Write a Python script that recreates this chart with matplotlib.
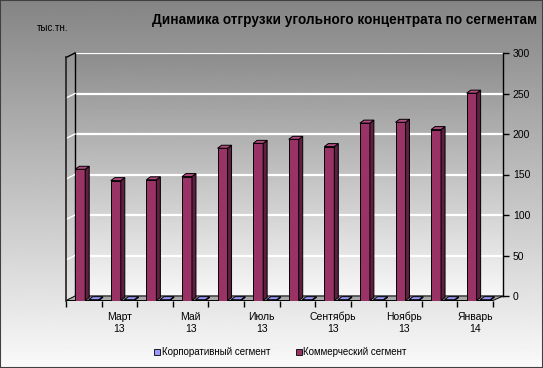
import numpy as np
import matplotlib
matplotlib.use('Agg')
import matplotlib.pyplot as plt
from matplotlib.patches import Polygon, Rectangle
from matplotlib.lines import Line2D
from matplotlib.transforms import IdentityTransform

plt.rcParams['font.family'] = ['Liberation Sans', 'DejaVu Sans']

# Данные (тыс.тн.)
meses = ['Февраль\n13', 'Март\n13', 'Апрель\n13', 'Май\n13', 'Июнь\n13', 'Июль\n13',
         'Август\n13', 'Сентябрь\n13', 'Октябрь\n13', 'Ноябрь\n13', 'Декабрь\n13', 'Январь\n14']
corporativo = [1, 1, 1, 1, 1, 1, 1, 1, 1, 1, 1, 1]
comercial = [162, 148, 149, 153, 188, 194, 199, 190, 219, 220, 211, 256]
etiquetas = ['Корпоративный сегмент', 'Коммерческий сегмент']
titulo = 'Динамика отгрузки угольного концентрата по сегментам'

W, H = 543, 368
fig = plt.figure(figsize=(W / 100, H / 100), dpi=100)

# fondo con degradado
bg = fig.add_axes([0, 0, 1, 1], zorder=-10)
bg.imshow(np.linspace(0.52, 0.98, 256).reshape(-1, 1), cmap='gray', vmin=0, vmax=1,
          aspect='auto', extent=(0, 1, 0, 1))
bg.set_axis_off()
fig.add_artist(Rectangle((0, 0), 1, 1, transform=fig.transFigure, fill=False,
                         edgecolor='#404040', lw=1.5))

# pared del fondo
back = fig.add_axes([75 / W, (H - 296) / H, 428 / W, 243 / H])
back.imshow(np.linspace(0.55, 0.97, 256).reshape(-1, 1), cmap='gray', vmin=0, vmax=1,
            aspect='auto', extent=(-0.5, 11.5, 0, 300), zorder=0)
back.set_xlim(-0.5, 11.5)
back.set_ylim(0, 300)
back.set_xticks([])
back.set_yticks(range(0, 301, 50))
back.yaxis.tick_right()
back.tick_params(axis='y', direction='out', length=4, width=1, pad=3, labelsize=7.5)
for v in range(50, 301, 50):
    back.axhline(v, color='white', lw=1.6, zorder=1)
back.spines['top'].set_visible(False)
for s in ['left', 'right', 'bottom']:
    back.spines[s].set_color('black')
    back.spines[s].set_linewidth(1)

# plano frontal con las barras
front = fig.add_axes([66 / W, (H - 300.5) / H, 427 / W, 243 / H])
front.patch.set_visible(False)
front.set_xlim(-0.5, 11.5)
front.set_ylim(0, 300)
front.set_yticks([])
for s in ['top', 'right', 'bottom']:
    front.spines[s].set_visible(False)
front.spines['left'].set_color('#202020')
front.spines['left'].set_linewidth(1.2)
x = np.arange(len(meses))
front.set_xticks(x)
front.set_xticklabels([m if i % 2 == 1 else '' for i, m in enumerate(meses)], fontsize=7.5,
                      linespacing=1.25)
front.set_xticks(np.arange(-0.5, 12, 1), minor=True)
front.tick_params(axis='x', which='major', length=0, pad=8)
front.tick_params(axis='x', which='minor', length=4, width=1, direction='out')

fig.canvas.draw()


def px(ax, pts):
    return ax.transData.transform(pts)


def poly(pts, color, z):
    front.add_patch(Polygon(pts, closed=True, facecolor=color, edgecolor='black', lw=0.7,
                            transform=IdentityTransform(), zorder=z, clip_on=False))


def linea(p, q, color, lw, z=2):
    front.add_line(Line2D([p[0], q[0]], [p[1], q[1]], color=color, lw=lw,
                          transform=IdentityTransform(), zorder=z, clip_on=False))


# suelo
f0, f1 = px(front, [(-0.5, 0), (11.5, 0)])
b0, b1 = px(back, [(-0.5, 0), (11.5, 0)])
poly([f0, f1, b1, b0], '#a8a8a8', 1)

# pared lateral izquierda
for v in range(50, 301, 50):
    p = px(front, (-0.5, v))
    q = px(back, (-0.5, v))
    linea(p, q, 'white' if v < 300 else 'black', 1.0)

dx, dy = 4, 3


def barra3d(xl, w, h, cara, lado, tapa):
    front.bar(xl, h, w, align='edge', color=cara, edgecolor='black', lw=0.7, zorder=3)
    a, b, c, d = px(front, [(xl, 0), (xl + w, 0), (xl + w, h), (xl, h)])
    poly([b, c, c + [dx, dy], b + [dx, dy]], lado, 3)
    poly([d, c, c + [dx, dy], d + [dx, dy]], tapa, 4)


w = 0.28
for i in x:
    barra3d(i - 0.24, w, comercial[i], '#993366', '#5e1f40', '#b04a7e')
    barra3d(i + 0.14, w, corporativo[i], '#9999ff', '#5c5ca8', '#9999ff')

# textos
fig.text(537 / W, (H - 20) / H, titulo, ha='right', va='center', fontsize=9.8,
         fontweight='bold')
fig.text(37 / W, (H - 28) / H, 'тыс.тн.', ha='left', va='center', fontsize=7)

handles = [Line2D([], [], marker='s', ls='', markerfacecolor='#9999ff',
                  markeredgecolor='black', markersize=4, markeredgewidth=0.6),
           Line2D([], [], marker='s', ls='', markerfacecolor='#993366',
                  markeredgecolor='black', markersize=4, markeredgewidth=0.6)]
fig.legend(handles, etiquetas, loc='center', bbox_to_anchor=(280 / W, (H - 352) / H), ncol=2,
           frameon=False, fontsize=7, handletextpad=0.1, columnspacing=2.5, handlelength=0.8)

fig.savefig('out.png', dpi=100)
